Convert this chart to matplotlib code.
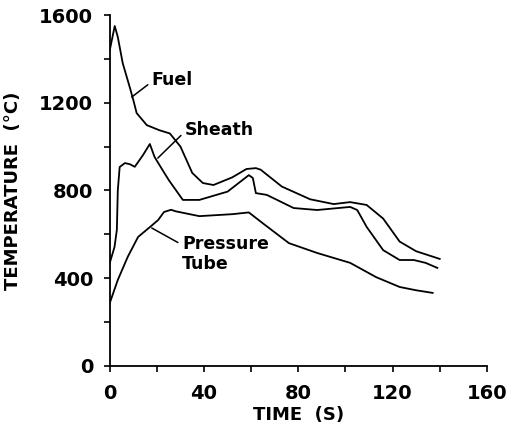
import numpy as np
import matplotlib.pyplot as plt
from matplotlib.ticker import MultipleLocator

# curve data (time s, temperature degC)
fuel_t = [0, 2.1, 3.4, 5.5, 8.5, 10, 11.4, 15.7, 21, 25.5, 30, 35, 39.5, 44, 52, 58, 62,
          64, 73, 85, 95, 102, 109, 116, 123, 130, 140]
fuel_T = [1440, 1550, 1500, 1380, 1270, 1212, 1153, 1098, 1075, 1060, 1000, 880, 834, 825,
          860, 898, 902, 895, 818, 760, 738, 747, 734, 672, 567, 523, 488]

sheath_t = [0, 2, 3, 3.4, 4.2, 6.4, 8.5, 10.6, 14, 17, 19, 22, 25, 31, 38, 50, 59, 60.7,
            62, 66.6, 71, 78, 88, 102, 105, 109, 116, 123, 129, 134, 139]
sheath_T = [470, 542, 620, 800, 907, 925, 920, 908, 960, 1012, 953, 900, 848, 757, 757,
            795, 870, 857, 788, 780, 757, 720, 711, 725, 711, 634, 528, 483, 483, 470, 447]

tube_t = [0, 3.4, 7.6, 12, 17, 20.5, 23, 26, 28, 38, 52, 59, 65, 76, 88, 102, 113, 123,
          130, 137]
tube_T = [287, 392, 497, 588, 633, 665, 702, 712, 705, 683, 692, 700, 650, 560, 515, 470,
          405, 360, 345, 333]

# labels: (text, point on curve, text position)
labels = [
    ("Fuel", (9.3, 1226), (17.8, 1304)),
    ("Sheath", (20.4, 948), (31.8, 1076)),
    ("Pressure\nTube", (17.8, 629), (30.6, 510)),
]

plt.rcParams['font.family'] = ['DejaVu Sans']

fig = plt.figure(figsize=(5.13, 4.30), dpi=100)
ax = fig.add_axes([0.214, 0.149, 0.735, 0.816])

for t, T in [(fuel_t, fuel_T), (sheath_t, sheath_T), (tube_t, tube_T)]:
    ax.plot(t, T, color='black', lw=1.3)

for text, xy, xytext in labels:
    ax.annotate(text, xy=xy, xytext=xytext, fontsize=12.5, fontweight='bold',
                ha='left', va='center', linespacing=1.1,
                arrowprops=dict(arrowstyle='-', color='black', lw=1.1,
                                shrinkA=1, shrinkB=0,
                                relpos=(0, 0.75 if '\n' in text else 0.4)))

ax.set_xlim(0, 160)
ax.set_ylim(0, 1600)
ax.xaxis.set_major_locator(MultipleLocator(40))
ax.xaxis.set_minor_locator(MultipleLocator(20))
ax.yaxis.set_major_locator(MultipleLocator(400))
ax.yaxis.set_minor_locator(MultipleLocator(200))
ax.tick_params(which='both', direction='out', length=4, width=1.2, labelsize=14)
ax.tick_params(axis='x', pad=9)
ax.tick_params(axis='y', pad=8)
for lab in ax.get_xticklabels() + ax.get_yticklabels():
    lab.set_fontweight('bold')

ax.spines['top'].set_visible(False)
ax.spines['right'].set_visible(False)
ax.spines['left'].set_linewidth(1.3)
ax.spines['bottom'].set_linewidth(1.3)

ax.set_xlabel('TIME  (S)', fontsize=13, fontweight='bold', labelpad=2)
ax.set_ylabel('TEMPERATURE  (°C)', fontsize=13, fontweight='bold', labelpad=12)

fig.savefig('out.png', dpi=100)
